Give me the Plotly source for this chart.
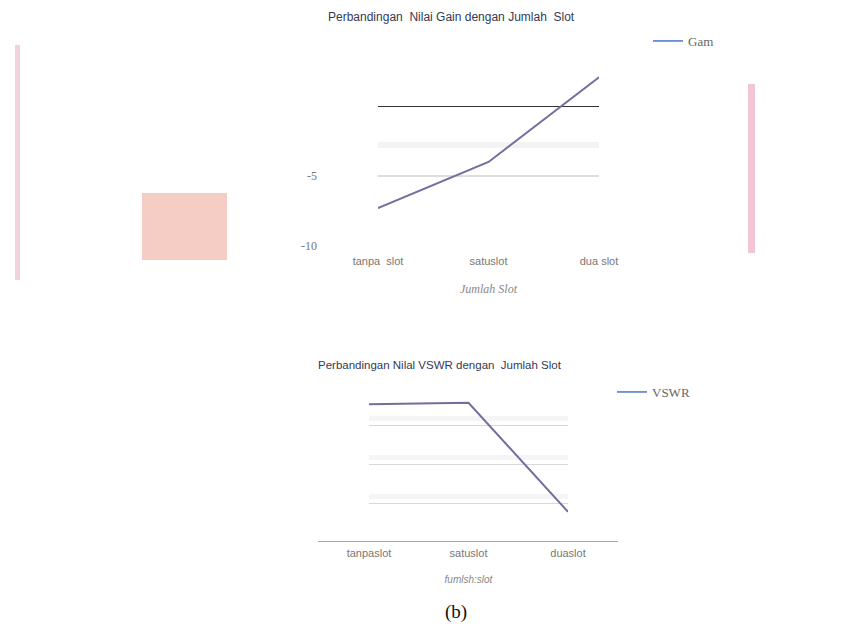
import plotly.graph_objects as go

W, H = 845, 630
OFF = 8  # page body margin in the browser

# ---- data ----
categories_gain = ["tanpa slot", "satu slot", "dua slot"]
tick_text_gain = ["tanpa  slot", "satuslot", "dua slot"]
gain_values = [-7.3, -4.0, 2.05]

categories_vswr = ["tanpa slot", "satu slot", "dua slot"]
tick_text_vswr = ["tanpaslot", "satuslot", "duaslot"]
vswr_values = [1.78, 1.80, 0.39]

gain_yticks = [-10, -5, 0]
gain_yticklabels = ["-10", "-5", ""]

LINE = "#766c9e"
LEG = "#4a74d2"
SANS = "Liberation Sans, Arial, sans-serif"
SERIF = "Liberation Serif, Times New Roman, serif"

def px(x):
    return (x - OFF) / W

def py(y):
    return 1 - (y - OFF) / H

fig = go.Figure()

# Gain chart
fig.add_trace(go.Scatter(x=categories_gain, y=gain_values, mode="lines",
                         line=dict(color=LINE, width=2), showlegend=False,
                         xaxis="x", yaxis="y"))
fig.add_trace(go.Scatter(x=[None], y=[None], mode="lines", name="Gam",
                         line=dict(color=LEG, width=1.5), legend="legend",
                         xaxis="x", yaxis="y"))
# VSWR chart
fig.add_trace(go.Scatter(x=categories_vswr, y=vswr_values, mode="lines",
                         line=dict(color=LINE, width=2), showlegend=False,
                         xaxis="x2", yaxis="y2"))
fig.add_trace(go.Scatter(x=[None], y=[None], mode="lines", name="VSWR",
                         line=dict(color=LEG, width=1.5), legend="legend2",
                         xaxis="x2", yaxis="y2"))

fig.update_layout(
    width=W, height=H, autosize=False,
    margin=dict(l=0, r=0, t=0, b=0, pad=0, autoexpand=False),
    paper_bgcolor="white", plot_bgcolor="white",
    xaxis=dict(domain=[px(378), px(599)], type="category",
               categoryorder="array", categoryarray=categories_gain,
               tickvals=categories_gain, ticktext=tick_text_gain,
               range=[0, 2], showgrid=False, zeroline=False, showline=False,
               tickfont=dict(family=SANS, size=11, color="#777"),
               ticklabelstandoff=7, automargin=False,
               title=dict(text="<i>Jumlah Slot</i>", standoff=18,
                          font=dict(family=SERIF, size=12, color="#888")),
               anchor="y"),
    yaxis=dict(domain=[py(246), py(71)], range=[-10, 2.5],
               tickvals=gain_yticks, ticktext=gain_yticklabels,
               showgrid=True, gridcolor="#dedede", gridwidth=1.5,
               zeroline=True, zerolinecolor="#333", zerolinewidth=1,
               minor=dict(tickvals=[-2.8], showgrid=True, gridcolor="#f3f3f3", gridwidth=6),
               showline=False, ticklabelstandoff=60, automargin=False,
               tickfont=dict(family=SERIF, size=12, color="#777"),
               anchor="x"),
    xaxis2=dict(domain=[px(369), px(568)], type="category",
                categoryorder="array", categoryarray=categories_vswr,
                tickvals=categories_vswr, ticktext=tick_text_vswr,
                range=[0, 2], showgrid=False, zeroline=False, showline=False,
                tickfont=dict(family=SANS, size=11, color="#777"),
                ticklabelstandoff=3, automargin=False,
                title=dict(text="<i>fumlsh:slot</i>", standoff=17,
                           font=dict(family=SANS, size=10, color="#888")),
                anchor="y2"),
    yaxis2=dict(domain=[py(542), py(395)], range=[0, 1.9],
                dtick=0.5, showticklabels=False, automargin=False,
                showgrid=True, gridcolor="#d8d8d8", gridwidth=1.2,
                minor=dict(tickvals=[0.59, 1.09, 1.59], showgrid=True,
                           gridcolor="#f5f5f5", gridwidth=5),
                zeroline=False, showline=False, anchor="x2"),
    legend=dict(x=px(648), y=py(41), xanchor="left", yanchor="middle",
                bgcolor="rgba(0,0,0,0)",
                font=dict(family=SERIF, size=13, color="#666")),
    legend2=dict(x=px(612), y=py(392), xanchor="left", yanchor="middle",
                 bgcolor="rgba(0,0,0,0)",
                 font=dict(family=SERIF, size=13, color="#666")),
)

annotations = [
    dict(text="Perbandingan  Nilai Gain dengan Jumlah  Slot", x=px(452), y=1,
         yanchor="top", font=dict(family=SANS, size=12, color="#333a55")),
    dict(text="Perbandingan Nilal VSWR dengan  Jumlah Slot", x=px(440), y=py(365),
         yanchor="middle", font=dict(family=SANS, size=11.5, color="#333a55")),
    dict(text="(b)", x=px(456), y=py(612),
         yanchor="middle", font=dict(family=SERIF, size=19, color="#111")),
]
for a in annotations:
    a.update(xref="paper", yref="paper", showarrow=False, xanchor="center")
fig.update_layout(annotations=annotations)

shapes = [
    # baseline of VSWR chart
    dict(type="line", xref="paper", yref="y2", x0=px(318), x1=px(618), y0=0, y1=0,
         line=dict(color="#555", width=1.2)),
    # scan artifacts
    dict(type="rect", xref="paper", yref="paper", x0=px(15), x1=px(20), y0=py(280), y1=py(45),
         fillcolor="#f0d3da", line=dict(width=0)),
    dict(type="rect", xref="paper", yref="paper", x0=px(142), x1=px(227), y0=py(260), y1=py(193),
         fillcolor="#f5cdc5", line=dict(width=0)),
    dict(type="rect", xref="paper", yref="paper", x0=px(748), x1=px(755), y0=py(253), y1=py(84),
         fillcolor="#f2c6d5", line=dict(width=0)),
    dict(type="rect", xref="paper", yref="paper", x0=px(843), x1=px(845), y0=py(250), y1=py(60),
         fillcolor="#f5cde0", line=dict(width=0)),
]
fig.update_layout(shapes=shapes)

fig.write_html("out.html")
